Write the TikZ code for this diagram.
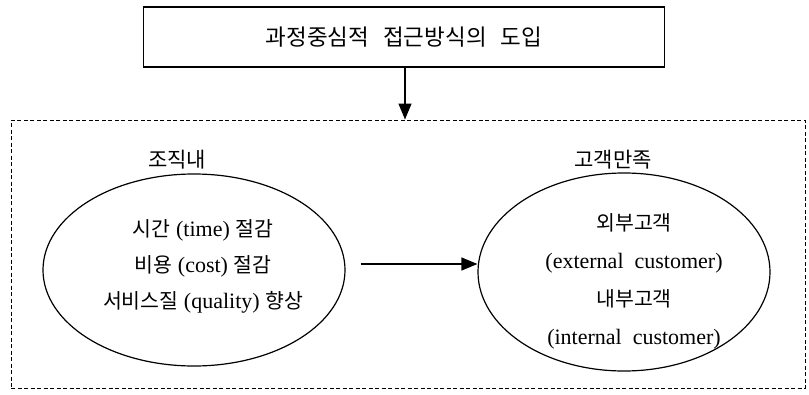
\documentclass[tikz,border=0pt]{standalone}
\usepackage{fontspec}
\setmainfont{Liberation Serif}
\newfontfamily\kr{Noto Sans CJK KR}
\usetikzlibrary{arrows.meta,shapes.geometric}
\newcommand{\ko}[1]{{\kr\fontsize{20.5}{24}\selectfont #1}}
\tikzset{
  titlebox/.style={draw, line width=1.3pt, minimum width=521pt, minimum height=60pt, inner sep=0pt},
  frame/.style={draw, line width=1pt, dash pattern=on 4pt off 2.5pt, minimum width=794pt, minimum height=268pt, inner sep=0pt},
  oval/.style={draw, ellipse, line width=1.2pt, inner sep=0pt},
  body/.style={align=center, inner sep=0pt, font=\fontsize{22}{37}\selectfont},
  lbl/.style={font=\kr\fontsize{21}{24}\selectfont},
  conn/.style={-{Triangle[length=16pt,width=13pt]}, line width=1.3pt},
}
\begin{document}
\begin{tikzpicture}[x=1pt,y=-1pt]
\useasboundingbox (0,0) rectangle (809,394);
\node[titlebox, font=\kr\fontsize{22.5}{26}\selectfont] (top) at (404,37) {과정중심적\hspace{14pt}접근방식의\hspace{14pt}도입};
\node[frame] (fr) at (408,254) {};
\node[lbl] (l1) at (177,160) {조직내};
\node[lbl] (l2) at (613,160) {고객만족};
\node[oval, minimum width=302pt, minimum height=192pt] (le) at (194,270) {};
\node[oval, minimum width=292pt, minimum height=198pt] (re) at (624,272) {};
\node[body, font=\fontsize{22}{36}\selectfont] (lt) at (203,266)
  {\ko{시간} (time) \ko{절감}\\\ko{비용} (cost) \ko{절감}\\\ko{서비스질} (quality) \ko{향상}};
\node[body, font=\fontsize{22}{38}\selectfont] (rt) at (634,281)
  {\ko{외부고객}\\(external\ \ customer)\\\ko{내부고객}\\(internal\ \ customer)};
\draw[conn] (top.south -| 405,0) -- (fr.north -| 405,0);
\draw[conn] (le.east) ++(15,-6) coordinate (a) -- (a -| re.west);
\end{tikzpicture}
\end{document}
